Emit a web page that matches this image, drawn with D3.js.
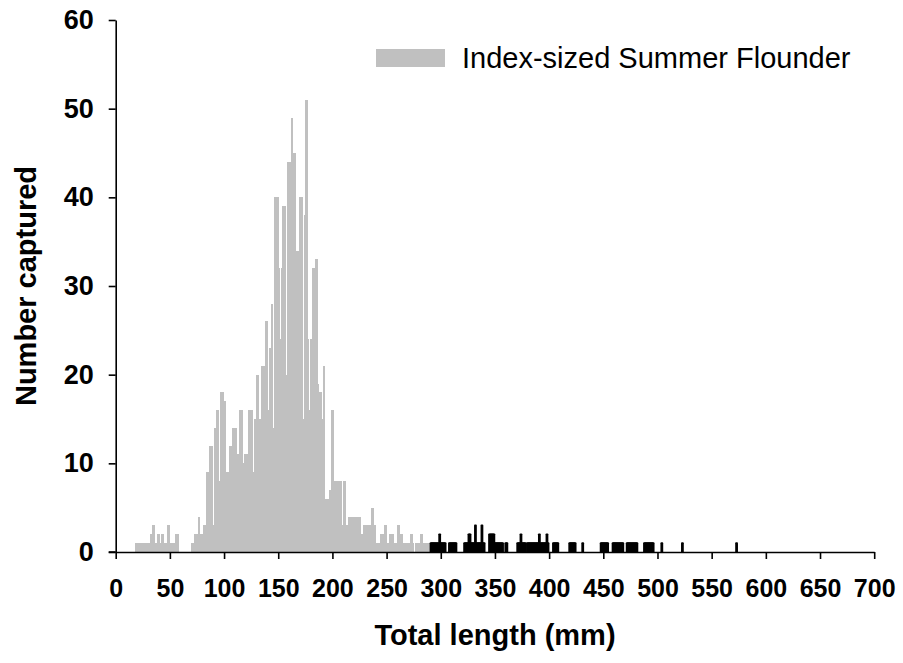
<!DOCTYPE html>
<html><head><meta charset="utf-8">
<script src="https://cdn.jsdelivr.net/npm/d3@7"></script>
<style>body{margin:0;background:#fff;} text{font-family:"Liberation Sans",Arial,sans-serif;}</style>
</head><body>
<svg id="chart" width="903" height="663"></svg>
<script>
// Index-sized fish: counts per 1-mm length class, starting at grayStart mm
const grayStart = 18;
const grayCounts = [
  1,1,1,1,1,1,1,1,1,1,1,1,1,1,
  2,2,3,3,3,1,1,2,2,1,2,2,2,1,1,1,3,3,3,1,1,1,1,2,2,2,2,
  0,0,0,0,0,0,0,0,0,0,0,
  1,1,1,2,2,2,4,4,2,2,2,3,3,3,
  9,9,9,12,12,12,3,14,14,16,16,16,8,18,18,18,17,17,
  9,9,9,12,12,12,14,14,14,14,11,11,16,16,16,16,10,11,11,11,11,16,16,16,16,9,
  15,15,20,20,20,15,15,21,21,21,26,26,26,16,23,23,28,28,14,
  40,40,40,40,32,24,32,39,39,39,39,20,44,44,44,49,49,45,45,45,34,34,34,40,40,40,15,38,51,51,51,24,
  16,24,24,32,32,33,33,33,19,18,18,18,15,21,21,6,6,6,7,7,16,16,16,8,8,8,8,8,8,8,3,8,8,8,3,3,
  4,4,4,4,4,4,4,4,4,4,4,4,2,2,3,3,3,3,3,3,3,5,5,5,3,3,
  1,1,1,2,2,2,2,3,3,3,1,1,2,2,2,2,1,1,1,3,3,3,2,2,2,1,1,1,1,1,1,2,2,2,1,0,1,1,1,1,2,2,2,1,1,1,1,1,1,1
];
// Larger fish (black bars): length (mm) and count
const blackLengths = [291,292,293,294,295,296,297,298,299,300,301,302,303,304,
  308,309,310,311,312,313,314,322,323,324,325,326,327,328,329,330,331,332,333,334,335,336,337,338,339,340,
  345,346,347,348,349,350,351,352,353,354,355,356,357,360,361,371,372,373,374,375,376,377,378,
  380,381,382,383,384,385,386,387,388,389,390,391,392,393,394,395,396,397,398,399,
  404,405,406,407,408,419,420,421,422,423,424,431,448,449,450,451,452,453,454,
  459,460,461,462,463,464,465,466,467,468,472,473,474,475,476,477,478,479,480,481,
  488,489,490,491,492,493,494,495,496,504,523,573];
const blackCounts = [1,1,1,1,1,1,1,1,2,1,1,1,1,1,
  1,1,1,1,1,1,1,1,1,1,1,2,2,1,1,1,1,3,1,1,1,1,1,3,1,1,
  2,2,2,2,2,1,1,1,1,1,1,1,1,1,1,1,1,1,2,1,1,1,1,
  1,1,1,1,1,1,1,1,1,1,1,2,1,1,1,1,1,1,2,1,
  1,1,1,1,1,1,1,1,1,1,1,1,1,1,1,1,1,1,1,
  1,1,1,1,1,1,1,1,1,1,1,1,1,1,1,1,1,1,1,1,
  1,1,1,1,1,1,1,1,1,1,1,1];
const xTickValues = [0,50,100,150,200,250,300,350,400,450,500,550,600,650,700];
const yTickValues = [0,10,20,30,40,50,60];
const legendLabel = "Index-sized Summer Flounder";
const xTitle = "Total length (mm)";
const yTitle = "Number captured";
const grayColor = "#c0c0c0";

const grayData = grayCounts.map((c, i) => ({len: grayStart + i, count: c})).filter(d => d.count > 0);
const blackData = blackLengths.map((l, i) => ({len: l, count: blackCounts[i]}));

const svg = d3.select("#chart");
const x = d3.scaleLinear().domain([0, 700]).range([115.7, 874.2]);
const y = d3.scaleLinear().domain([0, 60]).range([552, 20]);
const bw = x(1) - x(0);

// gray bars: plain 1-mm columns
svg.append("g").attr("shape-rendering", "crispEdges")
  .selectAll("rect").data(grayData).join("rect")
  .attr("x", d => x(d.len) - bw / 2)
  .attr("width", bw)
  .attr("y", d => y(d.count))
  .attr("height", d => y(0) - y(d.count))
  .attr("fill", grayColor);

// black bars: outlined columns
svg.append("g").selectAll("rect").data(blackData).join("rect")
  .attr("x", d => x(d.len) - bw / 2)
  .attr("width", bw)
  .attr("y", d => y(d.count))
  .attr("height", d => y(0) - y(d.count))
  .attr("fill", "#000")
  .attr("stroke", "#000")
  .attr("stroke-width", 1.7)
  .attr("stroke-linejoin", "round");

// axes
const font = '"Liberation Sans",Arial,sans-serif';
const xAxis = svg.append("g").attr("transform", `translate(0,${y(0)})`)
  .call(d3.axisBottom(x).tickValues(xTickValues).tickSizeInner(7).tickSizeOuter(0).tickPadding(20));
const yAxis = svg.append("g").attr("transform", `translate(${x(0)},0)`)
  .call(d3.axisLeft(y).tickValues(yTickValues).tickSizeInner(7).tickSizeOuter(0).tickPadding(15));
[xAxis, yAxis].forEach(g => {
  g.selectAll("path.domain").attr("stroke", "#000").attr("stroke-width", 1.6);
  g.selectAll(".tick line").attr("stroke", "#000").attr("stroke-width", 1.6);
  g.selectAll(".tick text").attr("fill", "#000")
    .style("font-family", font).style("font-weight", "bold");
});
xAxis.selectAll(".tick text").style("font-size", "25px");
yAxis.selectAll(".tick text").style("font-size", "27px");
// extend x-axis line to the left to meet the 0 tick
svg.append("line").attr("x1", x(0) - 7).attr("x2", x(0)).attr("y1", y(0)).attr("y2", y(0))
  .attr("stroke", "#000").attr("stroke-width", 1.6);

// titles
svg.append("text").attr("x", 495).attr("y", 645).attr("text-anchor", "middle")
  .style("font-weight", "bold").style("font-size", "29px").text(xTitle);
svg.append("text").attr("transform", `translate(36,286) rotate(-90)`).attr("text-anchor", "middle")
  .style("font-weight", "bold").style("font-size", "29px").text(yTitle);

// legend
svg.append("rect").attr("x", 376).attr("y", 49).attr("width", 69).attr("height", 18).attr("fill", grayColor);
svg.append("text").attr("x", 462).attr("y", 68).style("font-size", "29px").text(legendLabel);
</script>
</body></html>
